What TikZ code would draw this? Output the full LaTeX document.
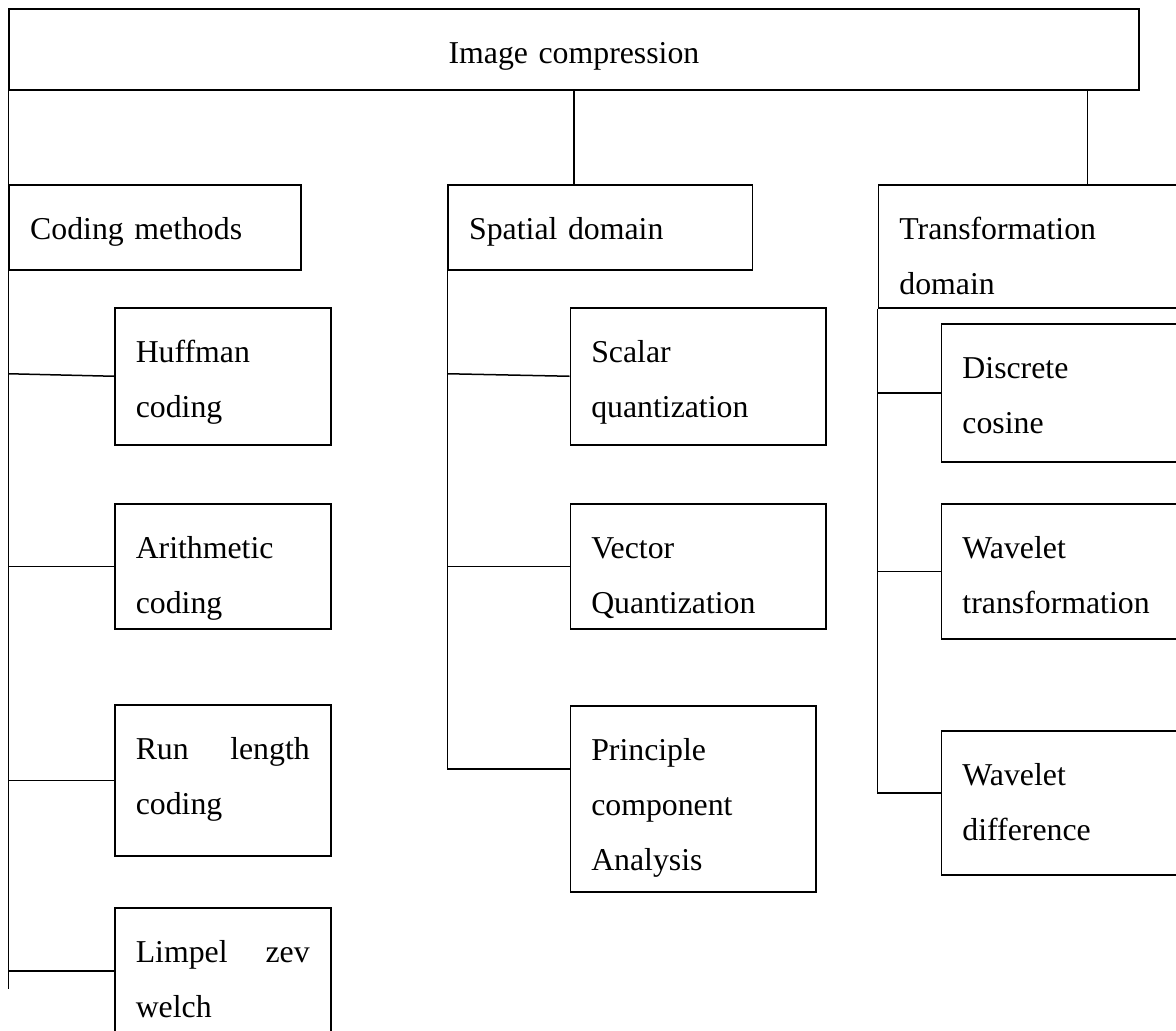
\documentclass[tikz,border=0pt]{standalone}
\usepackage{fontspec}
\setmainfont{Liberation Serif}
\begin{document}
\begin{tikzpicture}[x=1pt,y=-1pt,line width=1.5pt,
  box/.style={draw,anchor=north west,inner xsep=21pt,inner ysep=0pt,align=left,
    font=\fontsize{31.8}{55}\selectfont,text height=55pt}]
\useasboundingbox (0,0) rectangle (1176,1031);
\clip (0,0) rectangle (1176,1031);
% Root
\node[box,align=center,text width=1087.6pt,text depth=26pt] (root) at (8.4,8) {Image compression};
% Coding methods
\node[box,text width=250pt,text depth=30pt] (cod) at (8.4,184) {Coding methods};
\node[box,text width=174pt,text depth=82pt] (huff) at (114,307) {Huffman\\coding};
\node[box,text width=174pt,text depth=70pt] (arith) at (114,503) {Arithmetic\\coding};
\node[box,text width=174pt,text depth=96pt] (runl) at (114,704) {Run\hfill length\\coding};
\node[box,text width=174pt,text depth=71pt] (limp) at (114,907) {Limpel\hfill zev\\welch};
% Spatial domain
\node[box,text width=262.4pt,text depth=30pt] (spat) at (447.4,184) {Spatial domain};
\node[box,text width=213.5pt,text depth=82pt] (scal) at (569.5,307) {Scalar\\quantization};
\node[box,text width=213.5pt,text depth=70pt] (vect) at (569.5,503) {Vector\\Quantization};
\node[box,text width=203.5pt,text depth=131pt] (princ) at (569.5,705) {Principle\\component\\Analysis};
% Transformation domain
\node[box,text width=280pt,text depth=68pt] (trans) at (877.6,184) {Transformation\\domain};
\node[box,text width=217pt,text depth=83pt] (dcos) at (940.7,323) {Discrete\\cosine};
\node[box,text width=217pt,text depth=80pt] (wtra) at (940.7,503) {Wavelet\\transformation};
\node[box,text width=217pt,text depth=89pt] (wdif) at (940.7,730) {Wavelet\\difference};
% Connectors
\coordinate (tend) at (8.4,989);
\coordinate (tj) at (1087.4,89);
\draw (root.south west) -- (tend);
\draw (root.south) -- (root.south |- spat.north);
\draw (tj) -- (tj |- trans.north);
\draw (huff.west -| cod.west) ++(0,-2.5) -- (huff.west);
\draw (arith.west -| cod.west) -- (arith.west);
\draw (runl.west -| cod.west) -- (runl.west);
\draw (limp.west -| cod.west) -- (limp.west);
\draw (spat.south west) |- ([yshift=30pt]princ.west);
\draw (scal.west -| spat.west) ++(0,-2.5) -- (scal.west);
\draw (vect.west -| spat.west) -- (vect.west);
\draw (trans.south west) |- ([yshift=10pt]wdif.west);
\draw (dcos.west -| trans.west) -- (dcos.west);
\draw (wtra.west -| trans.west) -- (wtra.west);
\end{tikzpicture}
\end{document}
